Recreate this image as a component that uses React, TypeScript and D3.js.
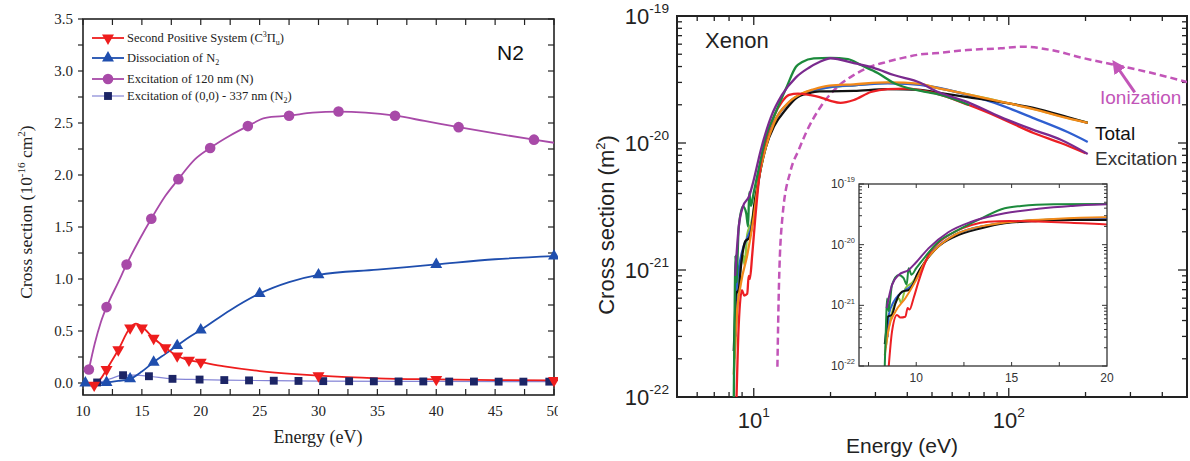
import React from 'react';
import * as d3 from 'd3';

type Pt = [number, number];

// ---------- N2 panel (energy in eV, cross section in 1e-16 cm^2)
const n120Line: Pt[] = [
  [10.5, 0.13], [11, 0.38], [11.5, 0.58], [12, 0.73], [13, 0.97], [13.7, 1.14], [14.8, 1.38],
  [15.8, 1.58], [17, 1.8], [18.1, 1.96], [19.5, 2.15], [20.8, 2.26], [22.5, 2.38], [24, 2.47],
  [25.5, 2.55], [27.5, 2.57], [29.5, 2.6], [31.7, 2.61], [34, 2.6], [36.5, 2.57], [39, 2.52],
  [41.9, 2.46], [45, 2.4], [48.3, 2.34], [50, 2.31],
];
const n120Marks: Pt[] = [
  [10.5, 0.13], [12, 0.73], [13.7, 1.14], [15.8, 1.58], [18.1, 1.96], [20.8, 2.26], [24, 2.47],
  [27.5, 2.57], [31.7, 2.61], [36.5, 2.57], [41.9, 2.46], [48.3, 2.34],
];
const spsLine: Pt[] = [
  [10.9, -0.02], [11.5, 0.04], [12, 0.13], [13, 0.32], [14, 0.53], [14.5, 0.57], [15, 0.54],
  [16, 0.43], [17, 0.34], [18, 0.26], [19, 0.22], [20, 0.2], [22, 0.16], [25, 0.115], [28, 0.085],
  [30, 0.07], [35, 0.045], [40, 0.035], [45, 0.028], [50, 0.025],
];
const spsMarks: Pt[] = [
  [10.95, -0.02], [12, 0.13], [13, 0.32], [14, 0.53], [15, 0.53], [16, 0.43], [17, 0.34],
  [18, 0.26], [19, 0.22], [20, 0.2], [30, 0.07], [40, 0.035], [50, 0.025],
];
const dissLine: Pt[] = [
  [10, 0], [11, 0], [12, 0.005], [13, 0.02], [14, 0.04], [15, 0.11], [16, 0.2], [17, 0.28],
  [18, 0.36], [19, 0.44], [20, 0.51], [22.5, 0.7], [25, 0.86], [27.5, 0.97], [30, 1.04],
  [35, 1.09], [40, 1.14], [45, 1.19], [50, 1.22],
];
const dissMarks: Pt[] = [
  [10.2, 0], [12, 0.005], [14, 0.04], [16, 0.2], [18, 0.36], [20, 0.51], [25, 0.86], [30, 1.04],
  [40, 1.14], [50, 1.22],
];
const n337Line: Pt[] = [
  [10, 0], [11.2, 0.005], [12.3, 0.04], [13.4, 0.075], [14.5, 0.075], [15.6, 0.065], [17.6, 0.04],
  [19.9, 0.033], [22, 0.028], [26, 0.022], [30, 0.018], [40, 0.015], [50, 0.013],
];
const n337Marks: Pt[] = [
  [11.2, 0.005], [13.4, 0.075], [15.6, 0.065], [17.6, 0.04], [19.9, 0.033], [22, 0.028],
  [24.1, 0.025], [26.2, 0.022], [28.3, 0.02], [30.4, 0.018], [32.6, 0.017], [34.7, 0.016],
  [36.8, 0.015], [38.9, 0.015], [41.1, 0.014], [43.2, 0.014], [45.3, 0.013], [47.4, 0.013],
  [49.6, 0.013],
];
const n2XTicks = [10, 15, 20, 25, 30, 35, 40, 45, 50];
const n2YTicks = [0, 0.5, 1, 1.5, 2, 2.5, 3, 3.5];

// ---------- Xenon panel (energy in eV, cross section in m^2)
const xeBlack: Pt[] = [
  [8.35, 2.3e-22], [8.42, 3.7e-22], [8.51, 6.5e-22], [8.73, 7.0e-22], [8.91, 1.08e-21],
  [9.26, 1.68e-21], [9.6, 1.79e-21], [9.86, 2.31e-21], [10.03, 3.17e-21], [10.47, 5.25e-21],
  [11.16, 9.3e-21], [12.03, 1.36e-20], [13.42, 1.86e-20], [14.64, 2.25e-20], [16.4, 2.46e-20],
  [18.1, 2.55e-20], [20, 2.55e-20], [24.7, 2.57e-20], [33.5, 2.66e-20], [45, 2.62e-20],
  [51, 2.52e-20], [69, 2.3e-20], [93, 2.1e-20], [125, 1.89e-20], [170, 1.6e-20], [204, 1.44e-20],
];
const xeOrange: Pt[] = [
  [8.35, 1.5e-22], [8.56, 4.2e-22], [8.91, 7.9e-22], [9.43, 1.31e-21], [9.95, 2.46e-21],
  [10.47, 5.25e-21], [11.16, 9.3e-21], [12.03, 1.45e-20], [13.77, 2.11e-20], [15.5, 2.46e-20],
  [17.2, 2.65e-20], [19.8, 2.83e-20], [24.7, 2.9e-20], [33.5, 3.0e-20], [45.2, 2.92e-20],
  [50.8, 2.75e-20], [69, 2.42e-20], [93, 2.12e-20], [125, 1.85e-20], [170, 1.57e-20], [204, 1.44e-20],
];
const xeLightGreen: Pt[] = [
  [8.4, 2e-22], [8.6, 5e-22], [8.9, 1.1e-21], [9.1, 1.3e-21], [9.2, 1.1e-21], [9.43, 1.9e-21],
  [9.8, 2.4e-21], [10.2, 3.8e-21], [10.6, 6e-21], [11.2, 9.6e-21], [12, 1.45e-20], [13.8, 2.1e-20],
  [15.5, 2.45e-20], [17.2, 2.6e-20], [19.8, 2.75e-20], [24.7, 2.85e-20], [33.5, 2.98e-20],
  [45, 2.9e-20], [51, 2.75e-20], [69, 2.42e-20], [93, 2.12e-20], [125, 1.86e-20], [170, 1.58e-20],
  [204, 1.45e-20],
];
const xeBlue: Pt[] = [
  [8.5, 3e-22], [8.56, 6.95e-22], [8.82, 1.15e-21], [9.08, 1.48e-21], [9.43, 1.79e-21],
  [9.78, 2.17e-21], [10.12, 3.17e-21], [10.64, 6.35e-21], [11.34, 1.05e-20], [12.03, 1.45e-20],
  [13.8, 2.1e-20], [16, 2.5e-20], [20, 2.75e-20], [25, 2.85e-20], [33.5, 2.95e-20], [40, 2.92e-20],
  [50.8, 2.76e-20], [69, 2.39e-20], [93, 1.99e-20], [125, 1.57e-20], [170, 1.22e-20], [204, 1.02e-20],
];
const xeRed: Pt[] = [
  [8.56, 1e-22], [8.73, 3.7e-22], [8.99, 6.95e-22], [9.17, 6.3e-22], [9.43, 6.5e-22],
  [9.55, 9e-22], [9.65, 8.5e-22], [9.86, 1.31e-21], [10.12, 2.46e-21], [10.64, 6.76e-21],
  [11.34, 1.19e-20], [12.03, 1.64e-20], [12.9, 2.11e-20], [13.77, 2.39e-20], [14.9, 2.45e-20],
  [16.7, 2.38e-20], [18.1, 2.3e-20], [20, 2.15e-20], [21.9, 2.07e-20], [24.7, 2.18e-20],
  [28.8, 2.52e-20], [33.5, 2.66e-20], [40, 2.68e-20], [45.2, 2.6e-20], [50.8, 2.48e-20],
  [69.7, 1.99e-20], [93, 1.57e-20], [125, 1.2e-20], [160, 1.0e-20], [200, 8.3e-21],
];
const xeGreen: Pt[] = [
  [8.35, 1.0e-22], [8.42, 5.4e-22], [8.47, 1.3e-21], [8.55, 8e-22], [8.73, 2.17e-21],
  [9.08, 3.17e-21], [9.34, 2.8e-21], [9.5, 2.2e-21], [9.6, 4.1e-21], [9.75, 3.2e-21],
  [10.0, 4.1e-21], [10.5, 6.5e-21], [11.16, 1.12e-20], [12.03, 1.64e-20], [13.42, 2.72e-20],
  [14.64, 3.98e-20], [15.5, 4.34e-20], [17.2, 4.63e-20], [20, 4.68e-20], [23.4, 4.58e-20],
  [26.3, 4.11e-20], [30.6, 3.56e-20], [35.4, 2.97e-20], [40.2, 2.71e-20], [45.2, 2.57e-20],
  [54, 2.39e-20], [70, 1.99e-20],
];
const xePurple: Pt[] = [
  [8.45, 9e-22], [8.73, 2.17e-21], [9.08, 3.17e-21], [9.6, 3.83e-21], [9.95, 4.93e-21],
  [10.64, 8.7e-21], [11.68, 1.6e-20], [12.9, 2.39e-20], [14.64, 3.29e-20], [16.4, 3.9e-20],
  [18.1, 4.34e-20], [20, 4.65e-20], [24.7, 4.26e-20], [29.5, 3.9e-20], [35.4, 3.43e-20],
  [45.2, 2.97e-20], [50.8, 2.61e-20], [69, 2.1e-20], [93, 1.6e-20], [125, 1.27e-20],
  [160, 1.06e-20], [204, 8.2e-21],
];
const xeIonization: Pt[] = [
  [12.38, 1.73e-22], [12.56, 7.85e-22], [12.96, 2.63e-21], [13.96, 6.1e-21], [15, 8.8e-21],
  [16.2, 1.26e-20], [18.3, 1.93e-20], [21.3, 2.77e-20], [24.7, 3.43e-20], [28.7, 3.99e-20],
  [33.5, 4.37e-20], [38.8, 4.7e-20], [45.2, 4.99e-20], [50.9, 5.08e-20], [68.8, 5.4e-20],
  [93, 5.57e-20], [114, 5.73e-20], [146, 5.4e-20], [197, 4.65e-20], [263, 4.11e-20],
  [351, 3.62e-20], [500, 3.02e-20],
];
const xeXTicks = [10, 100];
const xeXExps = ['1', '2'];
const xeYTicks = [1e-22, 1e-21, 1e-20, 1e-19];
const xeYExps = ['-22', '-21', '-20', '-19'];
const insetXTicks = [10, 15, 20];

const SERIF = '"Liberation Serif", "Times New Roman", serif';
const SANS = '"Liberation Sans", Arial, sans-serif';

const Pow = ({ x, y, exp, size, anchor, fill = '#222' }: any) => (
  <text x={x} y={y} fontSize={size} textAnchor={anchor} fontFamily={SANS} fill={fill}>
    10<tspan dy={-size * 0.48} fontSize={size * 0.62}>{exp}</tspan>
  </text>
);

const N2Panel = () => {
  const x = d3.scaleLinear().domain([10, 50]).range([83, 554]);
  const y = d3.scaleLinear().domain([0, 3.5]).range([383, 19]);
  const bottom = 395;
  const line = d3.line<Pt>().x((d) => x(d[0])).y((d) => y(d[1])).curve(d3.curveMonotoneX);
  const tri = d3.symbol(d3.symbolTriangle, 62)()!;
  const sq = d3.symbol(d3.symbolSquare, 62)()!;

  const purple = '#a84aa8';
  const red = '#ee1d1d';
  const blue = '#1f4eae';
  const navy = '#1c2566';
  const navyLine = '#8585d6';

  const minorX = d3.range(10, 50.01, 2.5);
  const minorY = d3.range(-0.0, 3.51, 0.25);

  const legend = [
    { color: red, lineColor: red, kind: 'down' },
    { color: blue, lineColor: blue, kind: 'up' },
    { color: purple, lineColor: purple, kind: 'circle' },
    { color: navy, lineColor: navyLine, kind: 'square' },
  ];
  const legendY = [38, 58, 79, 96];

  const marker = (kind: string, color: string, cx: number, cy: number, key: any) => {
    if (kind === 'circle') return <circle key={key} cx={cx} cy={cy} r={5.3} fill={color} />;
    if (kind === 'square') return <path key={key} d={sq} transform={`translate(${cx},${cy})`} fill={color} />;
    const rot = kind === 'down' ? ' rotate(180)' : '';
    return <path key={key} d={tri} transform={`translate(${cx},${cy})${rot}`} fill={color} />;
  };

  return (
    <g clipPath="url(#leftClip)">
      <defs>
        <clipPath id="n2Plot">
          <rect x={83} y={19} width={471} height={bottom - 19} />
        </clipPath>
      </defs>
      {/* ticks */}
      {minorX.map((v) => (
        <g key={'tx' + v} stroke="#222" strokeWidth={1.2}>
          <line x1={x(v)} x2={x(v)} y1={19} y2={25} />
          <line x1={x(v)} x2={x(v)} y1={bottom} y2={bottom - 6} />
        </g>
      ))}
      {minorY.map((v) => (
        <g key={'ty' + v} stroke="#222" strokeWidth={1.2}>
          <line x1={83} x2={78} y1={y(v)} y2={y(v)} />
          <line x1={554} x2={548} y1={y(v)} y2={y(v)} />
        </g>
      ))}
      <rect x={83} y={19} width={471} height={bottom - 19} fill="none" stroke="#222" strokeWidth={1.6} />
      {n2YTicks.map((v) => (
        <text key={'yl' + v} x={73} y={y(v)} dy="0.35em" textAnchor="end" fontFamily={SERIF} fontSize={15} fill="#222">
          {v.toFixed(1)}
        </text>
      ))}
      {n2XTicks.map((v) => (
        <text key={'xl' + v} x={x(v)} y={416} textAnchor="middle" fontFamily={SERIF} fontSize={15} fill="#222">
          {v}
        </text>
      ))}
      <text x={318} y={443} textAnchor="middle" fontFamily={SERIF} fontSize={18} fill="#222">Energy (eV)</text>
      <text transform="translate(32,212) rotate(-90)" textAnchor="middle" fontFamily={SERIF} fontSize={17.5} fill="#222">
        Cross section (10<tspan dy={-7} fontSize={11}>-16</tspan><tspan dy={7}> cm</tspan>
        <tspan dy={-7} fontSize={11}>2</tspan><tspan dy={7}>)</tspan>
      </text>
      <text x={497} y={60} fontFamily={SANS} fontSize={21} fill="#111">N2</text>

      {/* lines */}
      <g clipPath="url(#n2Plot)" fill="none">
        <path d={line(n337Line)!} stroke={navyLine} strokeWidth={1.2} />
        <path d={line(dissLine)!} stroke={blue} strokeWidth={1.8} />
        <path d={line(spsLine)!} stroke={red} strokeWidth={1.8} />
        <path d={line(n120Line)!} stroke={purple} strokeWidth={1.8} />
      </g>
      {n337Marks.map((d, i) => marker('square', navy, x(d[0]), y(d[1]), 'sq' + i))}
      {dissMarks.map((d, i) => marker('up', blue, x(d[0]), y(d[1]), 'up' + i))}
      {spsMarks.map((d, i) => marker('down', red, x(d[0]), y(d[1]), 'dn' + i))}
      {n120Marks.map((d, i) => marker('circle', purple, x(d[0]), y(d[1]), 'ci' + i))}

      {/* legend */}
      {legend.map((l, i) => (
        <g key={'lg' + i}>
          <line x1={92} x2={124} y1={legendY[i]} y2={legendY[i]} stroke={l.lineColor} strokeWidth={i === 3 ? 1.2 : 1.8} />
          {marker(l.kind, l.color, 108, legendY[i], 'lm' + i)}
        </g>
      ))}
      <g fontFamily={SERIF} fontSize={12.5} fill="#222">
        <text x={127} y={legendY[0] + 4}>
          Second Positive System (C<tspan dy={-5} fontSize={8}>3</tspan><tspan dy={5}>Π</tspan>
          <tspan dy={3} fontSize={8}>u</tspan><tspan dy={-3}>)</tspan>
        </text>
        <text x={127} y={legendY[1] + 4}>
          Dissociation of N<tspan dy={3} fontSize={8}>2</tspan>
        </text>
        <text x={127} y={legendY[2] + 4}>Excitation of 120 nm (N)</text>
        <text x={127} y={legendY[3] + 4}>
          Excitation of (0,0) - 337 nm (N<tspan dy={3} fontSize={8}>2</tspan><tspan dy={-3}>)</tspan>
        </text>
      </g>
    </g>
  );
};

const XenonPanel = () => {
  const left = 677, right = 1187, top = 16, bottom = 397;
  const x = d3.scaleLog().domain([5, 500]).range([left, right]);
  const y = d3.scaleLog().domain([1e-22, 1e-19]).range([bottom, top]);
  const line = d3.line<Pt>().x((d) => x(d[0])).y((d) => y(d[1])).curve(d3.curveMonotoneX);

  const ix = d3.scaleLinear().domain([7, 20]).range([859, 1107]);
  const iy = d3.scaleLog().domain([1e-22, 1e-19]).range([366, 184]);
  const iline = d3.line<Pt>().x((d) => ix(d[0])).y((d) => iy(d[1])).curve(d3.curveMonotoneX);

  const series = [
    { data: xeLightGreen, color: '#8cc63f' },
    { data: xeBlue, color: '#2f5fd0' },
    { data: xeBlack, color: '#111111' },
    { data: xeOrange, color: '#f28a1a' },
    { data: xeRed, color: '#ec1f24' },
    { data: xeGreen, color: '#1c8a3c' },
    { data: xePurple, color: '#7a2a8e' },
  ];
  const ionColor = '#c255b8';

  const xt = x.ticks();
  const yt = y.ticks();
  const isMajor = (v: number) => Math.abs(Math.log10(v) - Math.round(Math.log10(v))) < 1e-6;

  const arrowTip: Pt = [262, 4.15e-20];
  const arrowTail: Pt = [312, 2.5e-20];

  return (
    <g>
      <defs>
        <clipPath id="xePlot">
          <rect x={left} y={top} width={right - left} height={bottom - top} />
        </clipPath>
        <clipPath id="insetPlot">
          <rect x={859} y={184} width={248} height={182} />
        </clipPath>
        <marker id="arrowHead" viewBox="0 0 10 10" refX={6} refY={5} markerWidth={4.5} markerHeight={4.5} orient="auto">
          <path d="M0,0 L10,5 L0,10 z" fill={ionColor} />
        </marker>
      </defs>

      {/* axis ticks */}
      {xt.map((v, i) => {
        const len = isMajor(v) ? 9 : 5;
        return (
          <g key={'xt' + i} stroke="#222" strokeWidth={1.3}>
            <line x1={x(v)} x2={x(v)} y1={bottom} y2={bottom - len} />
            <line x1={x(v)} x2={x(v)} y1={top} y2={top + len} />
          </g>
        );
      })}
      {yt.map((v, i) => {
        const len = isMajor(v) ? 9 : 5;
        return (
          <g key={'yt' + i} stroke="#222" strokeWidth={1.3}>
            <line x1={left} x2={left + len} y1={y(v)} y2={y(v)} />
            <line x1={right} x2={right - len} y1={y(v)} y2={y(v)} />
          </g>
        );
      })}
      <rect x={left} y={top} width={right - left} height={bottom - top} fill="none" stroke="#222" strokeWidth={2} />

      {xeYTicks.map((v, i) => (
        <Pow key={'yl' + i} x={669} y={y(v) + 8} exp={xeYExps[i]} size={22} anchor="end" />
      ))}
      {xeXTicks.map((v, i) => (
        <Pow key={'xl' + i} x={x(v)} y={428} exp={xeXExps[i]} size={22} anchor="middle" />
      ))}
      <text x={902} y={453} textAnchor="middle" fontFamily={SANS} fontSize={21} fill="#222">Energy (eV)</text>
      <text transform="translate(614,225) rotate(-90)" textAnchor="middle" fontFamily={SANS} fontSize={22} fill="#222">
        Cross section (m<tspan dy={-9} fontSize={13}>2</tspan><tspan dy={9}>)</tspan>
      </text>
      <text x={705} y={48} fontFamily={SANS} fontSize={22} fill="#222">Xenon</text>

      {/* main curves */}
      <g clipPath="url(#xePlot)" fill="none" strokeLinejoin="round">
        <path d={line(xeIonization)!} stroke={ionColor} strokeWidth={2.5} strokeDasharray="7 4" />
        {series.map((s, i) => (
          <path key={'s' + i} d={line(s.data)!} stroke={s.color} strokeWidth={2.3} />
        ))}
      </g>
      <line
        x1={x(arrowTail[0])} y1={y(arrowTail[1])} x2={x(arrowTip[0])} y2={y(arrowTip[1])}
        stroke={ionColor} strokeWidth={3} markerEnd="url(#arrowHead)"
      />
      <text x={1100} y={104} fontFamily={SANS} fontSize={19} fill={ionColor}>Ionization</text>
      <text x={1095} y={140} fontFamily={SANS} fontSize={19} fill="#111">Total</text>
      <text x={1095} y={165} fontFamily={SANS} fontSize={19} fill="#333">Excitation</text>

      {/* inset */}
      <rect x={859} y={184} width={248} height={182} fill="#fff" />
      {d3.range(7.5, 20, 2.5).map((v) => (
        <g key={'ixt' + v} stroke="#333" strokeWidth={1}>
          <line x1={ix(v)} x2={ix(v)} y1={366} y2={362} />
          <line x1={ix(v)} x2={ix(v)} y1={184} y2={188} />
        </g>
      ))}
      {iy.ticks().map((v, i) => {
        const len = isMajor(v) ? 5 : 3;
        return (
          <g key={'iyt' + i} stroke="#333" strokeWidth={1}>
            <line x1={859} x2={859 + len} y1={iy(v)} y2={iy(v)} />
            <line x1={1107} x2={1107 - len} y1={iy(v)} y2={iy(v)} />
          </g>
        );
      })}
      <g clipPath="url(#insetPlot)" fill="none" strokeLinejoin="round">
        {series.map((s, i) => (
          <path key={'is' + i} d={iline(s.data)!} stroke={s.color} strokeWidth={2} />
        ))}
      </g>
      <rect x={859} y={184} width={248} height={182} fill="none" stroke="#333" strokeWidth={1.3} />
      {xeYTicks.map((v, i) => (
        <Pow key={'iyl' + i} x={855} y={iy(v) + 4} exp={xeYExps[i]} size={12} anchor="end" fill="#333" />
      ))}
      {insetXTicks.map((v) => (
        <text key={'ixl' + v} x={ix(v)} y={382} textAnchor="middle" fontFamily={SANS} fontSize={12} fill="#333">
          {v}
        </text>
      ))}
    </g>
  );
};

export default function App() {
  return (
    <svg
      width={1190}
      height={461}
      viewBox="0 0 1190 461"
      style={{ position: 'absolute', left: 0, top: 0, background: '#fff' }}
    >
      <defs>
        <clipPath id="leftClip">
          <rect x={0} y={0} width={558} height={461} />
        </clipPath>
      </defs>
      <rect x={0} y={0} width={1190} height={461} fill="#fff" />
      <N2Panel />
      <XenonPanel />
    </svg>
  );
}
